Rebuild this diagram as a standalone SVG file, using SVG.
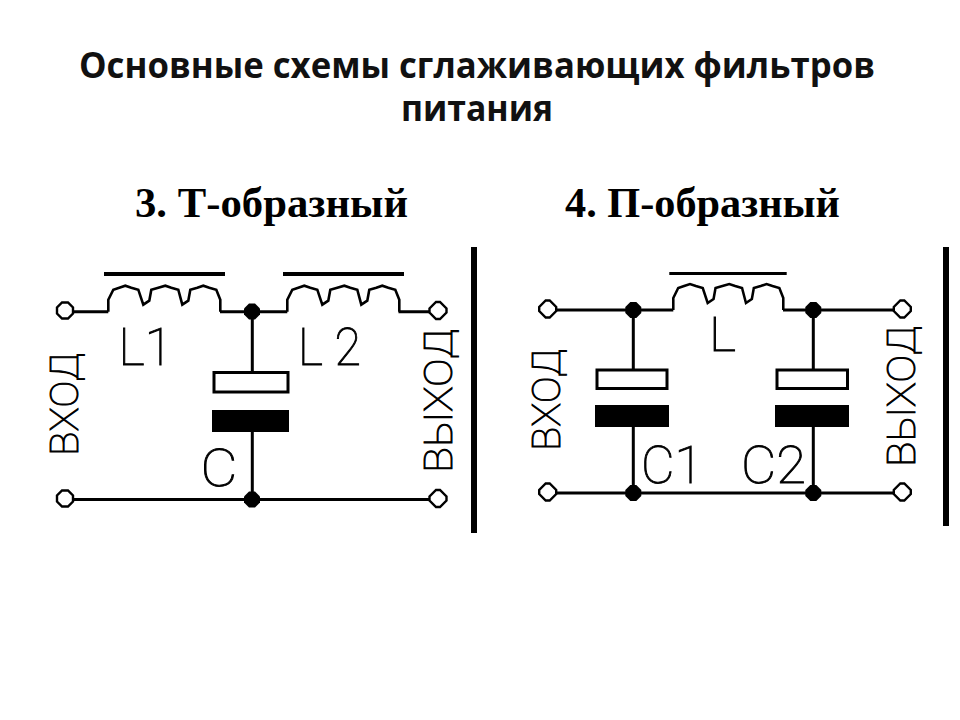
<svg xmlns="http://www.w3.org/2000/svg" width="960" height="720" viewBox="0 0 960 720">
<style>
.w{fill:none;stroke:#000;stroke-width:3}
.c{fill:none;stroke:#000;stroke-width:2.6;stroke-linejoin:miter}
.bar{fill:none;stroke:#000;stroke-width:4}
.t{fill:#fff;stroke:#000;stroke-width:2.4}
.n{fill:#000}
.cw{fill:#fff;stroke:#000;stroke-width:3}
.title{font-family:"Open Sans","Noto Sans","Liberation Sans",sans-serif;font-weight:700;font-size:36px;fill:#111;text-anchor:middle}
.head{font-family:"Liberation Serif",serif;font-weight:700;font-size:42px;fill:#000}
.lab{font-family:"Roboto","Lato","Liberation Sans",sans-serif;font-weight:100;font-size:52px;fill:#000;stroke:#000;stroke-width:.9}
.rot{font-family:"Roboto","Lato","Liberation Sans",sans-serif;font-weight:100;font-size:38px;fill:#000;stroke:#000;stroke-width:.9}
</style>
<defs>
<path id="coil" class="c" d="M0 0V-12L5 -22L11 -24L17 -26L23 -24L30 -22L35 -7L41 -11L43 -22L50 -24L57 -26L63 -24L70 -22L74 -7L80 -11L82 -22L89 -24L95 -26L101 -24L108 -22L112 -12V0"/>
<polygon id="term" class="t" points="-3,-8 3,-8 8,-3 8,3 3,8 -3,8 -8,3 -8,-3"/>
<polygon id="term2" class="t" points="-2,-8.500 2,-8.500 8.500,-2 8.500,2 2,8.500 -2,8.500 -8.500,2 -8.500,-2"/>
<polygon id="dot" class="n" points="-3,-8 3,-8 8,-3 8,3 3,8 -3,8 -8,3 -8,-3"/>
</defs>
<g id="title">
<text class="title" x="477" y="77.500" textLength="796" lengthAdjust="spacingAndGlyphs">Основные схемы сглаживающих фильтров</text>
<text class="title" x="477" y="120.500" textLength="152" lengthAdjust="spacingAndGlyphs">питания</text>
</g>
<g id="headings">
<text class="head" x="135" y="217" textLength="273" lengthAdjust="spacingAndGlyphs">3. Т-образный</text>
<text class="head" x="565" y="217" textLength="275" lengthAdjust="spacingAndGlyphs">4. П-образный</text>
</g>
<g id="connectors">
<path class="w" d="M73 311.700H108.300M220 311.700H287.300M398.500 311.700H430M252.300 311.700V372M252.300 432V499M73 499.500H430"/>
<use href="#coil" x="108.300" y="311.700"/>
<use href="#coil" x="287.300" y="311.700"/>
<path class="w" d="M555 310H673.300M783 310H895M633.300 310V369M813.300 310V369M633.300 426V493M813.300 426V493M555 493H895"/>
<use href="#coil" x="673.300" y="310" transform="translate(673.300 0) scale(.982 1) translate(-673.300 0)"/>
</g>
<g id="filter-t">
<g id="L1-bar"><path class="bar" d="M104 274H225"/></g>
<g id="L2-bar"><path class="bar" d="M283 274H404"/></g>
<g id="C-plate-top"><rect class="cw" x="214" y="372.500" width="74" height="19.500"/></g>
<g id="C-plate-bottom"><rect class="n" x="212" y="410" width="77" height="22"/></g>
<g id="t-in-top"><use href="#term" x="65" y="310.500"/></g>
<g id="t-out-top"><use href="#term2" x="438" y="310.500"/></g>
<g id="t-in-bottom"><use href="#term" x="65" y="498.500"/></g>
<g id="t-out-bottom"><use href="#term2" x="438" y="498.500"/></g>
<g id="t-node-top"><use href="#dot" x="252" y="311.500"/></g>
<g id="t-node-bottom"><use href="#dot" x="252" y="499.500"/></g>
<g id="t-labels">
<text class="lab" x="118.500" y="364.500" textLength="54" lengthAdjust="spacingAndGlyphs">L1</text>
<text class="lab" x="298" y="364.500" textLength="63" lengthAdjust="spacingAndGlyphs">L 2</text>
<text class="lab" x="200.500" y="486" textLength="37" lengthAdjust="spacingAndGlyphs">C</text>
<text class="rot" transform="translate(77.500 456) rotate(-90)" textLength="103" lengthAdjust="spacingAndGlyphs">ВХОД</text>
<text class="rot" transform="translate(451.700 473) rotate(-90)" textLength="144" lengthAdjust="spacingAndGlyphs">ВЫХОД</text>
</g>
<g id="t-divider"><rect class="n" x="471" y="247" width="6" height="286"/></g>
</g>
<g id="filter-pi">
<g id="L-bar"><path class="w" d="M669.300 273.500H786.700"/></g>
<g id="C1-plate-top"><rect class="cw" x="597" y="370" width="70" height="18.500"/></g>
<g id="C1-plate-bottom"><rect class="n" x="595" y="405" width="74" height="22"/></g>
<g id="C2-plate-top"><rect class="cw" x="777" y="370" width="70.500" height="18.500"/></g>
<g id="C2-plate-bottom"><rect class="n" x="775" y="405" width="74" height="22"/></g>
<g id="p-in-top"><use href="#term2" x="547.700" y="309"/></g>
<g id="p-out-top"><use href="#term2" x="902.300" y="309"/></g>
<g id="p-in-bottom"><use href="#term2" x="547.700" y="492"/></g>
<g id="p-out-bottom"><use href="#term2" x="902.300" y="492"/></g>
<g id="p-node-1"><use href="#dot" x="633.300" y="310"/></g>
<g id="p-node-2"><use href="#dot" x="813.300" y="310"/></g>
<g id="p-node-3"><use href="#dot" x="633.300" y="493"/></g>
<g id="p-node-4"><use href="#dot" x="813.300" y="493"/></g>
<g id="p-labels">
<text class="lab" x="709" y="350.500" style="font-size:49px" textLength="27" lengthAdjust="spacingAndGlyphs">L</text>
<text class="lab" x="641" y="482.500" textLength="62" lengthAdjust="spacingAndGlyphs">C1</text>
<text class="lab" x="741" y="482.500" textLength="65" lengthAdjust="spacingAndGlyphs">C2</text>
<text class="rot" transform="translate(560 451) rotate(-90)" textLength="102" lengthAdjust="spacingAndGlyphs">ВХОД</text>
<text class="rot" transform="translate(915 467) rotate(-90)" textLength="141" lengthAdjust="spacingAndGlyphs">ВЫХОД</text>
</g>
<g id="p-divider"><rect class="n" x="943" y="247" width="6" height="279"/></g>
</g>
</svg>
